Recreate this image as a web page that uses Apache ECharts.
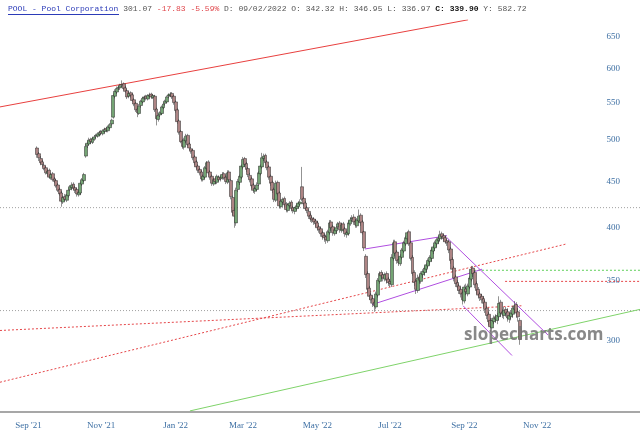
<!DOCTYPE html>
<html>
<head>
<meta charset="utf-8">
<script src="https://cdn.jsdelivr.net/npm/echarts@6/dist/echarts.min.js"></script>
<style>
  html, body { margin: 0; padding: 0; background: #fff; }
  #chart { width: 640px; height: 444px; }
</style>
</head>
<body>
<div id="chart"></div>
<script>
// trading calendar
const firstDate = '2021-08-10';
const dayCount = 370;
const holidays = ['2021-09-06', '2021-11-25', '2021-12-24', '2022-01-17', '2022-02-21', '2022-04-15',
  '2022-05-30', '2022-06-20', '2022-07-04', '2022-09-05', '2022-11-24', '2022-12-26', '2023-01-02', '2023-01-16'];
const xTickDates = ['2021-09-01', '2021-11-01', '2022-01-03', '2022-03-01', '2022-05-02', '2022-07-01', '2022-09-01', '2022-11-01'];
const priceTicks = [300, 350, 400, 450, 500, 550, 600, 650];
const monthNames = ['Jan', 'Feb', 'Mar', 'Apr', 'May', 'Jun', 'Jul', 'Aug', 'Sep', 'Oct', 'Nov', 'Dec'];

// daily candles, first one on this date
const candleStart = '2021-09-09';
const opens = [
  490,483,477,473,469,466,459,463,454,459, 453,451,446,441,437,427,433,429,434,441,
  443,447,443,441,435,437,447,451,480,493, 495,501,497,501,505,505,507,511,508,511,
  515,512,516,521,530,559,565,571,571,575, 577,571,567,559,564,561,554,549,541,535,
  546,551,557,559,555,559,562,557,559,541, 527,533,535,543,549,551,559,560,563,559,
  551,540,525,511,499,491,499,506,495,489, 487,479,473,468,464,461,452,455,465,473,
  461,456,447,453,449,455,453,454,459,455, 449,461,451,432,418,405,441,449,455,467,
  477,471,465,457,453,446,439,441,447,459, 467,477,481,473,467,456,449,441,429,449,
  437,422,427,431,425,418,423,427,421,417, 420,422,425,444,431,426,421,417,413,410,
  409,407,405,401,399,395,392,391,387,395, 406,401,394,397,401,405,397,404,399,393,
  394,404,409,411,407,402,407,413,406,396, 372,356,343,337,334,331,327,337,349,357,
  355,351,356,351,349,346,370,386,376,369, 365,371,377,384,389,396,385,371,357,349,
  341,353,349,355,357,360,363,367,370,377, 380,384,387,389,394,392,390,387,386,379,
  369,361,353,348,345,342,339,332,342.32,338, 344,351,361,357,347,342,338,336,334,331,
  326,321,316,310,315,319,316,319,331,323, 320,325,323,317,319,321,325,329,323,316
];
const closes = [
  482,478,472,470,465,460,462,455,458,452, 450,445,440,436,428,432,430,435,440,444,
  446,442,440,436,438,448,452,458,492,496, 500,498,502,504,506,508,510,509,512,514,
  513,517,520,526,560,566,570,572,574,576, 570,566,558,563,560,553,548,540,536,545,
  552,556,558,556,560,561,558,560,540,528, 532,536,544,548,552,558,561,562,558,550,
  539,524,510,498,492,500,505,494,490,486, 478,472,467,463,460,453,456,466,472,460,
  455,448,452,450,456,452,455,458,454,450, 460,452,433,416,412,440,450,456,468,476,
  470,464,458,452,445,440,442,446,460,468, 478,480,472,466,455,448,440,430,448,436,
  423,428,430,424,419,424,426,420,418,421, 423,426,427,430,425,420,418,412,409,408,
  406,404,400,398,394,391,390,388,396,405, 400,395,398,400,404,398,403,398,394,395,
  405,408,410,406,403,408,412,405,395,380, 355,342,336,333,330,328,338,350,356,354,
  352,355,350,348,347,371,385,375,368,366, 372,378,385,390,395,384,370,356,348,342,
  352,350,356,358,361,364,368,371,378,381, 385,388,390,393,391,389,386,385,378,368,
  360,352,347,344,341,338,333,344,339.9,345, 352,360,356,346,341,337,335,333,330,325,
  320,315,311,316,318,317,320,330,322,321, 324,322,318,320,322,326,328,322,318.9,301.07
];
const lows = [
  478,474,469,467,463,458,456,453,452,450, 448,443,438,434,422,425,428,427,432,439,
  440,440,437,433,433,435,445,449,478,490, 493,495,495,499,502,503,505,506,506,509,
  510,510,514,519,528,556,562,568,568,572, 568,564,555,556,557,551,545,537,530,533,
  543,549,554,553,553,557,555,555,537,519, 524,530,533,541,546,549,556,558,555,547,
  536,521,507,496,489,488,496,492,487,483, 475,469,464,460,457,450,450,453,462,457,
  452,445,445,447,447,450,450,452,452,447, 447,449,430,413,400,402,438,446,453,464,
  467,461,455,449,442,437,436,439,445,457, 465,474,469,463,452,445,437,427,427,434,
  420,420,424,421,416,416,420,417,415,414, 418,420,423,428,423,418,415,409,406,405,
  403,401,397,395,391,388,386,384,385,393, 397,392,392,394,399,395,395,396,391,390,
  392,402,406,403,400,400,405,402,393,377, 352,339,333,330,327,323,325,335,347,351,
  349,349,347,345,344,344,368,372,365,363, 363,369,375,382,387,382,368,354,345,338,
  339,347,347,352,354,357,361,364,367,374, 377,381,384,386,388,386,384,382,375,365,
  357,349,344,341,338,335,329,330,336.97,336, 342,349,353,343,338,334,332,330,327,322,
  317,312,307,308,313,314,313,316,319,318, 317,319,315,314,316,318,322,318,315,297
];
const highs = [
  492,485,480,475,471,468,464,465,460,461, 455,453,448,443,439,434,436,436,442,446,
  449,449,445,443,440,450,454,460,495,499, 503,503,504,506,508,510,512,513,514,516,
  517,519,522,528,563,569,573,575,577,582, 579,574,569,566,566,563,556,551,543,548,
  554,558,560,561,562,564,564,562,561,543, 534,538,546,550,554,560,563,565,565,561,
  553,542,527,513,501,503,508,508,497,491, 489,481,475,470,466,463,458,468,474,475,
  463,458,454,455,458,457,457,461,461,457, 463,463,453,434,421,443,453,458,470,479,
  479,473,467,460,455,448,444,449,462,470, 484,483,483,475,469,458,451,443,451,451,
  439,430,432,433,427,426,428,429,423,422, 425,428,430,467,433,428,423,419,415,412,
  411,409,407,403,401,397,394,393,398,408, 408,403,400,402,406,407,405,406,401,397,
  407,411,413,414,409,410,419,415,408,397, 374,358,345,339,336,333,340,352,358,359,
  357,357,358,353,351,374,388,388,378,371, 374,380,387,392,396,398,387,373,359,351,
  355,355,358,360,363,366,370,373,380,383, 387,390,392,397,396,394,392,389,388,381,
  371,363,355,350,347,344,341,346,346.95,347, 354,363,363,359,349,344,340,338,336,333,
  328,323,318,318,320,321,322,336,333,325, 327,327,326,322,324,328,332,331,326,318
];

// drawn lines: [bar position, price]
const resistanceLine = [[-0.5, 544], [270.1, 679]];
const supportLine = [[109.3, 251], [369.5, 325]];
const redDotA = [[-0.5, 308], [301.3, 328]];
const redDotB = [[-0.5, 270], [327.3, 384]];
const grayLevelHigh = [[-0.5, 421], [369.5, 421]];
const grayLevelLow = [[-0.5, 324], [369.5, 324]];
const greenLevel = [[271.2, 359], [369.5, 359]];
const redLevel = [[291.5, 349], [369.5, 349]];
const channelUpTop = [[210.5, 379], [257.9, 392]];
const channelUpBottom = [[214.6, 329], [278.2, 360]];
const channelDownTop = [[257.9, 390], [316.3, 304.5]];
const channelDownBottom = [[267.2, 328], [295.5, 289]];

// quote header
const quoteName = 'POOL - Pool Corporation';
const quoteLast = '301.07';
const quoteChange = ['-17.83', '-5.59%'];
const quoteBar = ['D: 09/02/2022', 'O: 342.32', 'H: 346.95', 'L: 336.97'];
const quoteClose = 'C: 339.90';
const quoteHigh = 'Y: 582.72';

const dates = [];
const d = new Date(firstDate + 'T00:00:00Z');
while (dates.length < dayCount) {
  const s = d.toISOString().slice(0, 10);
  const wd = d.getUTCDay();
  if (wd !== 0 && wd !== 6 && !holidays.includes(s)) dates.push(s);
  d.setUTCDate(d.getUTCDate() + 1);
}

const startIdx = dates.indexOf(candleStart);
const candles = dates.map((_, i) => {
  const k = i - startIdx;
  if (k < 0 || k >= closes.length) return '-';
  return [Math.log(opens[k]), Math.log(closes[k]), Math.log(lows[k]), Math.log(highs[k])];
});

const yTop = 6.5201, yBottom = 5.5227;

const lineSeries = (data, color, type, width) => ({
  type: 'line',
  xAxisIndex: 1,
  data: data.map(p => [p[0], Math.log(p[1])]),
  symbol: 'none',
  silent: true,
  lineStyle: { color: color, width: width || 1, type: type || 'solid' },
  z: 3
});

const headerText = '{n|' + quoteName + '} {g|' + quoteLast + '} {r|' + quoteChange.join(' ') + '} {g|' +
  quoteBar.join(' ') + '} {b|' + quoteClose + '} {g|' + quoteHigh + '}';

const chart = echarts.init(document.getElementById('chart'));
chart.setOption({
  animation: false,
  grid: { left: 0, right: 0, top: 20, bottom: 32 },
  xAxis: [
    {
      type: 'category',
      data: dates,
      axisLine: { lineStyle: { color: '#8a8a8a', width: 1.5 } },
      axisTick: { show: false },
      axisLabel: {
        interval: (i, v) => xTickDates.includes(v),
        formatter: v => monthNames[+v.slice(5, 7) - 1] + " '" + v.slice(2, 4),
        color: '#3d6fa3',
        fontFamily: 'Liberation Serif',
        fontSize: 9,
        margin: 9
      },
      splitLine: { show: false }
    },
    { type: 'value', min: -0.5, max: dayCount - 0.5, show: false }
  ],
  yAxis: {
    type: 'value',
    position: 'right',
    min: yBottom,
    max: yTop,
    axisLine: { show: false },
    axisTick: { show: false },
    splitLine: { show: false },
    axisLabel: {
      inside: true,
      margin: 20,
      customValues: priceTicks.map(v => Math.log(v)),
      formatter: v => String(Math.round(Math.exp(v))),
      color: '#3d6fa3',
      fontFamily: 'Liberation Serif',
      fontSize: 9
    }
  },
  graphic: [
    {
      type: 'text',
      left: 8,
      top: 5,
      style: {
        text: headerText,
        font: '8px "Liberation Mono"',
        fill: '#555',
        rich: {
          n: { fill: '#2b3bb8', fontFamily: 'Liberation Mono', fontSize: 8 },
          g: { fill: '#555', fontFamily: 'Liberation Mono', fontSize: 8 },
          r: { fill: '#e0474c', fontFamily: 'Liberation Mono', fontSize: 8 },
          b: { fill: '#111', fontFamily: 'Liberation Mono', fontSize: 8, fontWeight: 'bold' }
        }
      }
    },
    { type: 'line', shape: { x1: 8, y1: 14.5, x2: 119, y2: 14.5 }, style: { stroke: '#2b3bb8', lineWidth: 1 } },
    {
      type: 'text',
      left: 464,
      top: 327,
      z: 10,
      style: { text: 'slopecharts.com', fill: 'rgba(115,115,115,0.85)', font: 'bold 17px "Open Sans"' }
    }
  ],
  series: [
    lineSeries(grayLevelHigh, '#a0a0a0', [1, 2]),
    lineSeries(grayLevelLow, '#a0a0a0', [1, 2]),
    lineSeries(resistanceLine, '#e8403f'),
    lineSeries(supportLine, '#7fd36a'),
    lineSeries(redDotA, '#e5474a', [2, 2]),
    lineSeries(redDotB, '#e5474a', [2, 2]),
    lineSeries(greenLevel, '#5fcf5a', [2, 2]),
    lineSeries(redLevel, '#e5474a', [2, 2]),
    lineSeries(channelUpTop, '#b04ee0'),
    lineSeries(channelUpBottom, '#b04ee0'),
    lineSeries(channelDownTop, '#b04ee0'),
    lineSeries(channelDownBottom, '#b04ee0'),
    {
      type: 'candlestick',
      data: candles,
      barWidth: 3.4,
      z: 4,
      itemStyle: {
        color: '#74a474',
        color0: '#ad8484',
        borderColor: '#262626',
        borderColor0: '#262626',
        borderWidth: 0.5
      }
    }
  ]
});
</script>
</body>
</html>
